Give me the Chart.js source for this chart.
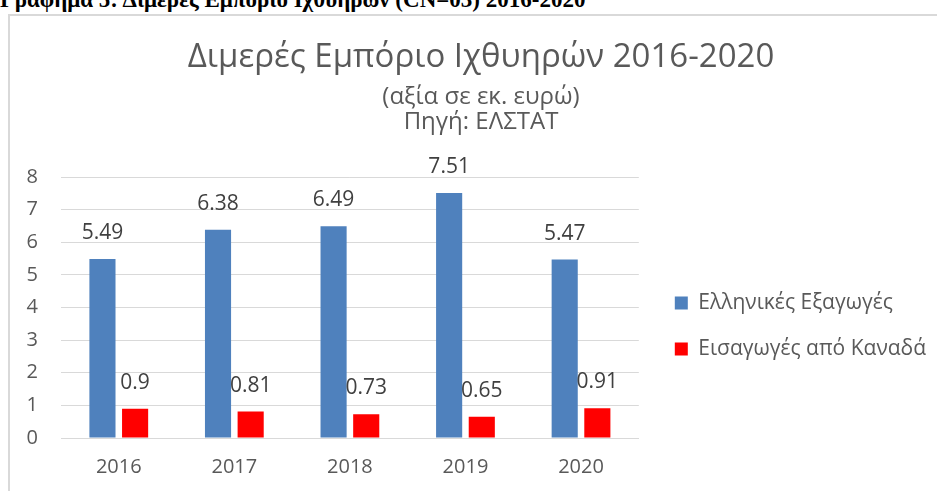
<!DOCTYPE html>
<html>
<head>
<meta charset="utf-8">
<script src="https://cdn.jsdelivr.net/npm/chart.js@4.4.0/dist/chart.umd.min.js"></script>
<style>
  html, body { margin: 0; padding: 0; background: #fff; overflow: hidden; width: 937px; height: 491px; }
  #heading { position: absolute; left: 0; top: -12px; font: bold 23px "Liberation Serif", serif; line-height: 23px; color: #000; white-space: nowrap; }
  #box { position: absolute; left: 8px; top: 14px; width: 960px; height: 490px; border-left: 2px solid #d9d9d9; border-top: 2px solid #d9d9d9; }
  #wrap { position: absolute; left: 0; top: 0; width: 945px; height: 475px; }
</style>
</head>
<body>
<div id="heading">Γράφημα 5: Διμερές Εμπόριο Ιχθυηρών (CN=03) 2016-2020</div>
<div id="box"><div id="wrap"><canvas id="c"></canvas></div></div>
<script>
const categories = ["2016", "2017", "2018", "2019", "2020"];
const exportsGR = [5.49, 6.38, 6.49, 7.51, 5.47];
const importsCA = [0.9, 0.81, 0.73, 0.65, 0.91];
const seriesNames = ["Ελληνικές Εξαγωγές", "Εισαγωγές από Καναδά"];
const titleText = "Διμερές Εμπόριο Ιχθυηρών 2016-2020";
const subtitleLines = ["(αξία σε εκ. ευρώ)", "Πηγή: ΕΛΣΤΑΤ"];

const FONT = '"Open Sans", "Noto Sans", sans-serif';

const valueLabels = {
  id: 'valueLabels',
  afterDatasetsDraw(chart) {
    const ctx = chart.ctx;
    ctx.save();
    ctx.font = '21px ' + FONT;
    ctx.fillStyle = '#404040';
    ctx.textAlign = 'center';
    ctx.textBaseline = 'middle';
    chart.data.datasets.forEach((ds, i) => {
      chart.getDatasetMeta(i).data.forEach((bar, j) => {
        ctx.fillText(String(ds.data[j]), bar.x, bar.y - 26);
      });
    });
    ctx.restore();
  }
};

new Chart(document.getElementById('c'), {
  type: 'bar',
  data: {
    labels: categories,
    datasets: [
      { label: seriesNames[0], data: exportsGR, backgroundColor: '#4f81bd', categoryPercentage: 0.565, barPercentage: 0.8 },
      { label: seriesNames[1], data: importsCA, backgroundColor: '#ff0000', categoryPercentage: 0.565, barPercentage: 0.8 }
    ]
  },
  options: {
    responsive: true,
    maintainAspectRatio: false,
    animation: false,
    layout: { padding: { left: 16, right: 19, top: 10, bottom: 8 } },
    plugins: {
      title: { display: true, text: titleText, color: '#595959', font: { family: FONT, size: 33, weight: 'normal', lineHeight: 1.2 }, padding: { top: 12, bottom: 0 } },
      subtitle: { display: true, text: subtitleLines, color: '#595959', font: { family: FONT, size: 24, weight: 'normal', lineHeight: 1.05 }, padding: { top: 7, bottom: 42 } },
      legend: {
        position: 'right',
        fullSize: false,
        maxWidth: 300,
        title: { display: true, text: '', font: { size: 10, lineHeight: 1 }, padding: { top: 13, bottom: 14 } },
        labels: { color: '#595959', font: { family: FONT, size: 21 }, boxWidth: 13, boxHeight: 13, padding: 25 }
      },
      tooltip: { enabled: false }
    },
    scales: {
      x: {
        grid: { display: false, drawTicks: false },
        border: { color: '#d9d9d9' },
        ticks: { color: '#595959', font: { family: FONT, size: 20 }, padding: 17 },
        afterFit(scale) { scale.height = 45; }
      },
      y: {
        min: 0, max: 8,
        ticks: { stepSize: 1, color: '#595959', font: { family: FONT, size: 20 }, padding: 23 },
        grid: { color: '#d9d9d9', drawTicks: false },
        border: { display: false },
        afterFit(scale) { scale.width = 35; }
      },
      gap: {
        type: 'linear', position: 'right', display: true,
        grid: { display: false, drawTicks: false }, border: { display: false },
        ticks: { display: false },
        afterFit(scale) { scale.width = 11; }
      }
    }
  },
  plugins: [valueLabels]
});
</script>
</body>
</html>
